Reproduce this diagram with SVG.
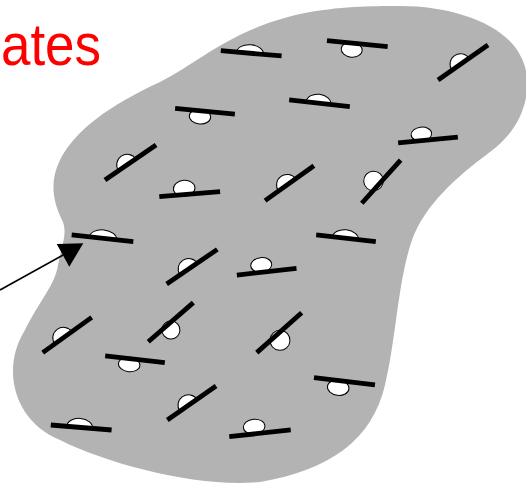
<svg xmlns="http://www.w3.org/2000/svg" width="526" height="484" viewBox="0 0 526 484">
<style>
.pl{stroke:#000;stroke-width:4.8;stroke-linecap:butt}
.bl{fill:#fff;stroke:#000;stroke-width:1}
.cn{stroke:#000;stroke-width:1.6;fill:none}
.lbl{font-family:"Liberation Sans",Arial,sans-serif;font-size:60px;fill:#ff0000}
</style>
<rect width="526" height="484" fill="#fff"/>
<g id="region">
<path fill="#b3b3b3" d="M 400,6 C 455,6 505,25 520,55 C 535,80 528,125 490,152 C 455,178 425,205 412,240 C 398,280 396,340 385,385 C 372,440 330,470 260,482 C 200,488 110,465 60,440 C 15,422 0,370 25,330 C 40,300 55,285 58,265 C 62,245 68,232 62,220 C 52,200 50,180 60,160 C 75,130 110,105 160,82 C 200,62 230,30 300,14 C 340,6 370,6 400,6 Z"/>
</g>
<g id="label"><text class="lbl" x="1" y="65" textLength="100" lengthAdjust="spacingAndGlyphs">ates</text></g>
<g id="plate1" transform="translate(251.2,53.3) rotate(5)"><path class="bl" d="M -14.5,0 A 13.5,8.5 0 0 1 12.5,0 Z"/><line class="pl" x1="-30.5" y1="0" x2="30.5" y2="0"/></g>
<g id="plate2" transform="translate(357.3,43.7) rotate(5.6)"><ellipse class="bl" cx="-5" cy="6.5" rx="10.5" ry="7.5"/><line class="pl" x1="-30.5" y1="0" x2="30.5" y2="0"/></g>
<g id="plate3" transform="translate(319.5,103.3) rotate(6.3)"><path class="bl" d="M -13.5,0 A 12.5,9 0 0 1 11.5,0 Z"/><line class="pl" x1="-30.5" y1="0" x2="30.5" y2="0"/></g>
<g id="plate4" transform="translate(463,62.5) rotate(-35)"><path class="bl" d="M -13.5,0 A 10.5,10.5 0 0 1 7.5,0 Z"/><line class="pl" x1="-30.5" y1="0" x2="30.5" y2="0"/></g>
<g id="plate5" transform="translate(428,140) rotate(-5.7)"><ellipse class="bl" cx="-6" cy="-6.5" rx="10.3" ry="7"/><line class="pl" x1="-30" y1="0" x2="30" y2="0"/></g>
<g id="plate6" transform="translate(381.2,181.7) rotate(-48)"><circle class="bl" cx="-4.6" cy="-6.2" r="9.8"/><line class="pl" x1="-29" y1="0" x2="29" y2="0"/></g>
<g id="plate7" transform="translate(289.5,183.2) rotate(-35.5)"><path class="bl" d="M -13.5,0 A 10.5,10.5 0 0 1 7.5,0 Z"/><line class="pl" x1="-30" y1="0" x2="30" y2="0"/></g>
<g id="plate8" transform="translate(346,238.3) rotate(6.4)"><path class="bl" d="M -13.5,0 A 13,8.5 0 0 1 12.5,0 Z"/><line class="pl" x1="-30" y1="0" x2="30" y2="0"/></g>
<g id="plate9" transform="translate(266.7,271.7) rotate(-6.4)"><ellipse class="bl" cx="-4.7" cy="-7.3" rx="10.5" ry="7.3"/><line class="pl" x1="-30" y1="0" x2="30" y2="0"/></g>
<g id="plate10" transform="translate(205,111.2) rotate(5.4)"><ellipse class="bl" cx="-4.5" cy="5.9" rx="10.7" ry="7.3"/><line class="pl" x1="-30" y1="0" x2="30" y2="0"/></g>
<g id="plate11" transform="translate(130.5,162.5) rotate(-34.5)"><path class="bl" d="M -14.5,0 A 10.5,10.5 0 0 1 6.5,0 Z"/><line class="pl" x1="-31" y1="0" x2="31" y2="0"/></g>
<g id="plate12" transform="translate(189.7,194.2) rotate(-4.7)"><ellipse class="bl" cx="-5" cy="-6.3" rx="10.8" ry="8"/><line class="pl" x1="-30.5" y1="0" x2="30.5" y2="0"/></g>
<g id="plate13" transform="translate(102.5,238.3) rotate(6.2)"><path class="bl" d="M -13.2,0 A 13.7,8.5 0 0 1 14.2,0 Z"/><line class="pl" x1="-31" y1="0" x2="31" y2="0"/></g>
<g id="plate14" transform="translate(67.2,335) rotate(-35.8)"><path class="bl" d="M -15.3,0 A 10.5,10.5 0 0 1 5.7,0 Z"/><line class="pl" x1="-30.2" y1="0" x2="30.2" y2="0"/></g>
<g id="plate15" transform="translate(170.8,322.2) rotate(-40.9)"><circle class="bl" cx="-5" cy="6" r="9"/><line class="pl" x1="-29.8" y1="0" x2="29.8" y2="0"/></g>
<g id="plate16" transform="translate(135,359.3) rotate(6.4)"><ellipse class="bl" cx="-5.2" cy="5.8" rx="10.8" ry="7.2"/><line class="pl" x1="-30" y1="0" x2="30" y2="0"/></g>
<g id="plate17" transform="translate(191.7,403) rotate(-34.9)"><path class="bl" d="M -14.4,0 A 10.5,10.5 0 0 1 6.6,0 Z"/><line class="pl" x1="-29.7" y1="0" x2="29.7" y2="0"/></g>
<g id="plate18" transform="translate(81.2,427.5) rotate(4.7)"><path class="bl" d="M -14.5,0 A 13,9 0 0 1 11.5,0 Z"/><line class="pl" x1="-30.5" y1="0" x2="30.5" y2="0"/></g>
<g id="plate19" transform="translate(279.2,332.7) rotate(-41.6)"><circle class="bl" cx="-4.5" cy="6.2" r="10"/><line class="pl" x1="-30" y1="0" x2="30" y2="0"/></g>
<g id="plate20" transform="translate(344.5,381.3) rotate(6.8)"><ellipse class="bl" cx="-5.5" cy="7" rx="10.8" ry="7.8"/><line class="pl" x1="-30.7" y1="0" x2="30.7" y2="0"/></g>
<g id="plate21" transform="translate(260,433.3) rotate(-6.2)"><ellipse class="bl" cx="-5.1" cy="-7.2" rx="10.8" ry="7.5"/><line class="pl" x1="-30.9" y1="0" x2="30.9" y2="0"/></g>
<g id="plate22" transform="translate(192,266.7) rotate(-34.4)"><path class="bl" d="M -14.5,0 A 10.5,10.5 0 0 1 6.5,0 Z"/><line class="pl" x1="-30.7" y1="0" x2="30.7" y2="0"/></g>
<g id="connectors">
<line class="cn" x1="0" y1="290" x2="64" y2="254.5"/>
<polygon fill="#000" points="56.7,244 83.3,243.3 69.3,266.7"/>
</g>
</svg>
